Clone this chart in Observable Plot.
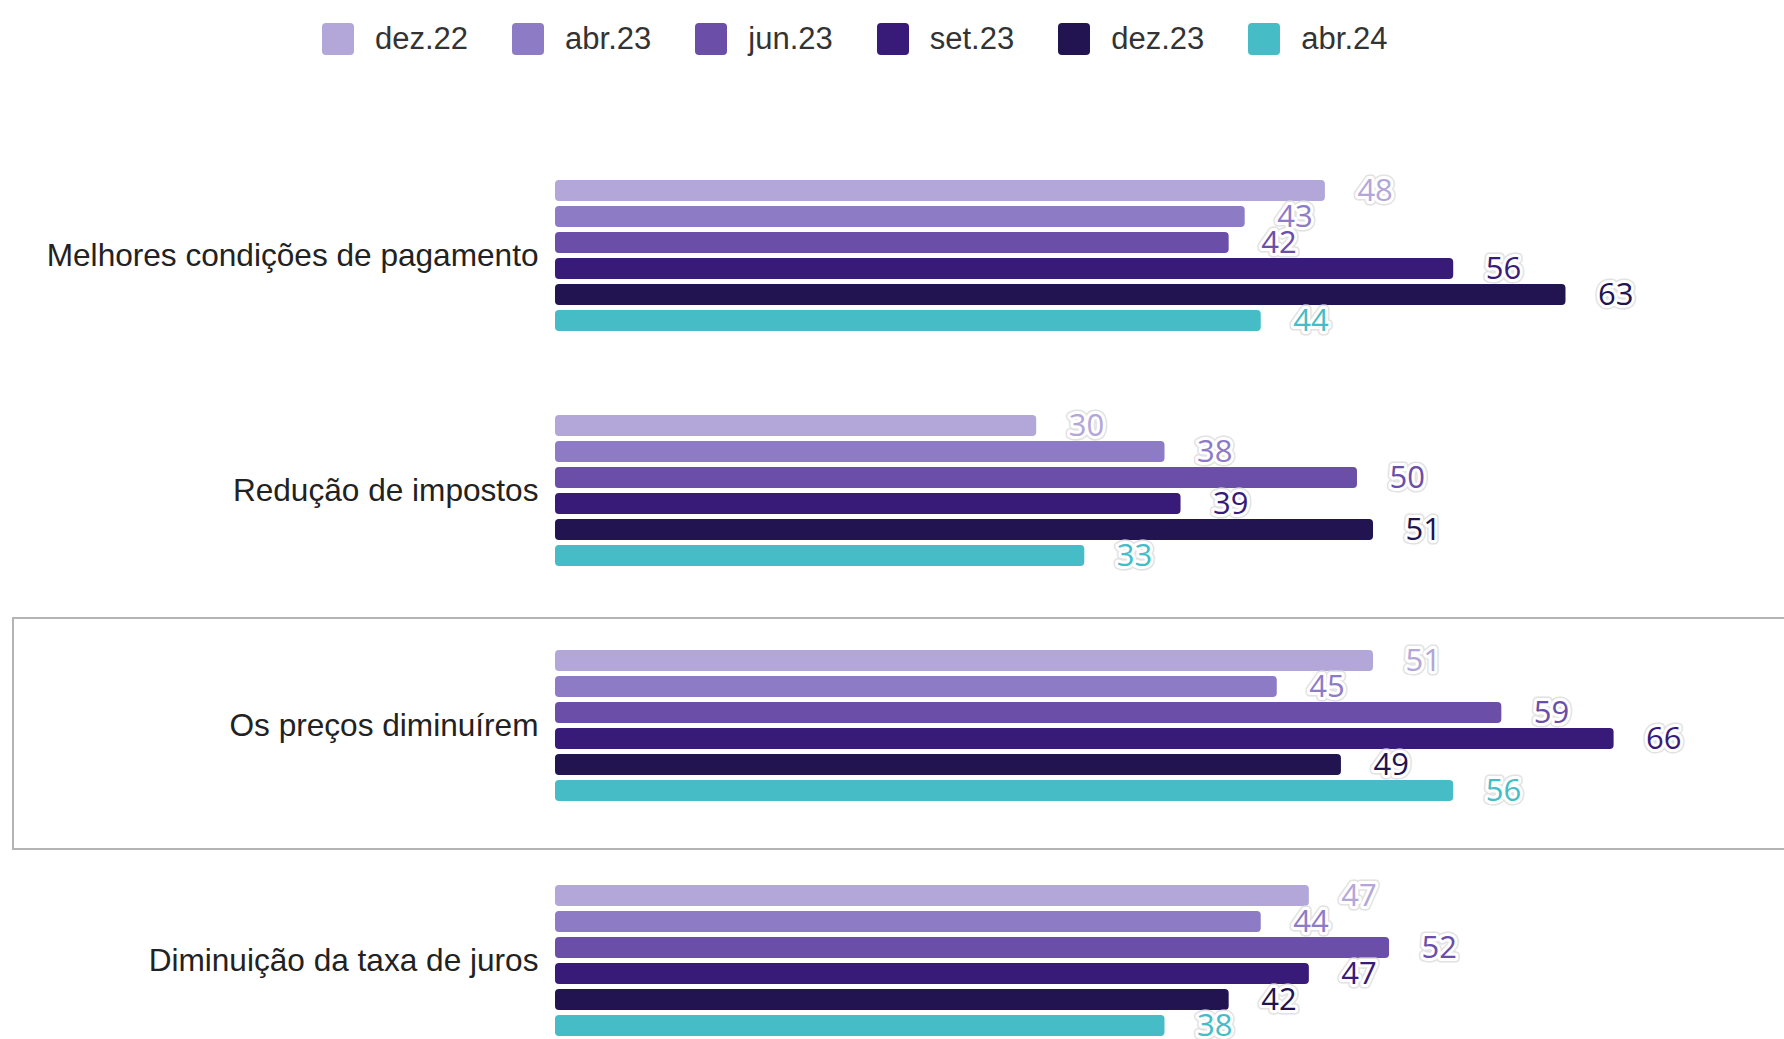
<!DOCTYPE html>
<html>
<head>
<meta charset="utf-8">
<script src="https://cdn.jsdelivr.net/npm/d3@7"></script>
<script src="https://cdn.jsdelivr.net/npm/@observablehq/plot@0.6"></script>
<style>
  html, body { margin: 0; padding: 0; background: #fff; overflow: hidden; width: 1784px; height: 1039px; }
  #legend { display: flex; align-items: center; height: 32px; padding-top: 23px; padding-bottom: 25px; padding-left: 322px; box-sizing: content-box;
            font-family: "Liberation Sans", Arial, sans-serif; font-size: 31px; color: #333; }
  .item { display: flex; align-items: center; margin-right: 44px; }
  .sw { width: 32px; height: 32px; border-radius: 4px; margin-right: 21px; }
</style>
</head>
<body>
<div id="legend"></div>
<div id="chart"></div>
<script>
const categories = [
  "Melhores condições de pagamento",
  "Redução de impostos",
  "Os preços diminuírem",
  "Diminuição da taxa de juros"
];
const series = ["dez.22", "abr.23", "jun.23", "set.23", "dez.23", "abr.24"];
const colors = ["#b3a6d8", "#8d7bc6", "#6a4ea8", "#381b79", "#211451", "#45bcc6"];

const melhoresCondicoes = [48, 43, 42, 56, 63, 44];
const reducaoImpostos   = [30, 38, 50, 39, 51, 33];
const precosDiminuirem  = [51, 45, 59, 66, 49, 56];
const diminuicaoJuros   = [47, 44, 52, 47, 42, 38];
const valuesByCategory = [melhoresCondicoes, reducaoImpostos, precosDiminuirem, diminuicaoJuros];

const highlighted = ["Os preços diminuírem"];

const data = categories.flatMap((c, i) =>
  series.map((s, j) => ({category: c, series: s, value: valuesByCategory[i][j]}))
);

const xDomain = [0, 76];

const chart = Plot.plot({
  width: 1784,
  height: 961,
  marginLeft: 555,
  marginRight: 10,
  marginTop: 95,
  marginBottom: 0,
  x: {domain: xDomain, axis: null},
  y: {domain: series, axis: null, paddingInner: 0.2, paddingOuter: 0.1},
  fy: {domain: categories, paddingInner: 0.319, paddingOuter: 0, label: null},
  color: {domain: series, range: colors},
  style: {fontFamily: "'Liberation Sans', Arial, sans-serif", fontSize: "31.6px", background: "transparent", color: "#222"},
  marks: [
    Plot.barX(highlighted, {
      fy: d => d,
      x1: () => xDomain[0],
      x2: () => xDomain[1],
      insetLeft: -542, insetRight: -30, insetTop: -27, insetBottom: -44,
      fill: "none", stroke: "#b4b4b4", strokeWidth: 2
    }),
    Plot.barX(data, {fy: "category", y: "series", x: "value", fill: "series", rx: 4}),
    Plot.text(data, {
      fy: "category", y: "series", x: "value", text: d => String(d.value),
      dx: 32, textAnchor: "start", fill: "none",
      stroke: "#e2e2e2", strokeWidth: 9, strokeLinejoin: "round",
      fontFamily: "'Open Sans', sans-serif", fontSize: 31
    }),
    Plot.text(data, {
      fy: "category", y: "series", x: "value", text: d => String(d.value),
      dx: 32, textAnchor: "start", fill: "series",
      stroke: "white", strokeWidth: 6, strokeLinejoin: "round", paintOrder: "stroke",
      fontFamily: "'Open Sans', sans-serif", fontSize: 31
    }),
    Plot.axisFy({anchor: "left", tickSize: 0, tickPadding: 17, fontSize: 31.6, label: null, fill: "#222"})
  ]
});
document.getElementById("chart").appendChild(chart);

const colorScale = chart.scale("color");
const legend = document.getElementById("legend");
colorScale.domain.forEach((s, i) => {
  const item = document.createElement("div");
  item.className = "item";
  const sw = document.createElement("div");
  sw.className = "sw";
  sw.style.background = colorScale.range[i];
  const label = document.createElement("span");
  label.textContent = s;
  item.appendChild(sw);
  item.appendChild(label);
  legend.appendChild(item);
});
</script>
</body>
</html>
